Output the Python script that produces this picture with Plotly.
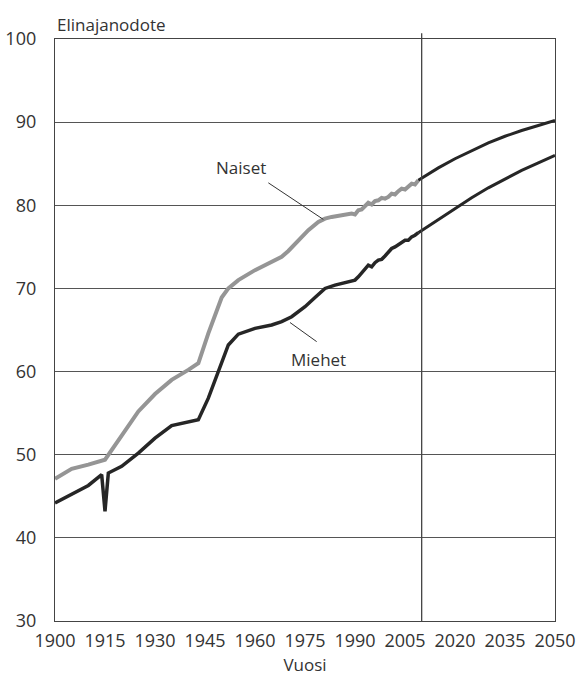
import plotly.graph_objects as go

# --- Data -------------------------------------------------------------
years_naiset = [1900, 1905, 1910, 1915, 1920, 1925, 1930, 1935, 1940, 1943,
                1946, 1950, 1952, 1955, 1960, 1965, 1968, 1970, 1973, 1976,
                1979, 1981, 1983, 1985, 1987, 1989, 1990, 1991, 1992, 1993,
                1994, 1995, 1996, 1997, 1998, 1999, 2000, 2001, 2002, 2003,
                2004, 2005, 2006, 2007, 2008, 2009]
naiset = [47.1, 48.3, 48.8, 49.4, 52.3, 55.2, 57.3, 59.0, 60.2, 61.0,
          64.6, 68.9, 70.0, 71.0, 72.2, 73.2, 73.8, 74.5, 75.8, 77.0,
          78.0, 78.4, 78.6, 78.7, 78.8, 79.0, 78.9, 79.4, 79.5, 79.9,
          80.3, 80.1, 80.5, 80.6, 80.9, 80.8, 81.0, 81.4, 81.3, 81.7,
          82.0, 81.9, 82.3, 82.6, 82.5, 83.0]

years_miehet = [1900, 1905, 1910, 1914, 1915, 1916, 1920, 1925, 1930, 1935,
                1940, 1943, 1946, 1950, 1952, 1955, 1960, 1965, 1968, 1971,
                1975, 1978, 1981, 1984, 1987, 1989, 1990, 1991, 1992, 1993,
                1994, 1995, 1996, 1997, 1998, 1999, 2000, 2001, 2002, 2003,
                2004, 2005, 2006, 2007, 2008, 2009]
miehet = [44.2, 45.2, 46.3, 47.6, 43.2, 47.8, 48.6, 50.2, 52.0, 53.5,
          54.0, 54.2, 56.8, 61.0, 63.2, 64.5, 65.2, 65.6, 66.0, 66.6,
          67.8, 68.9, 70.0, 70.4, 70.7, 71.0, 71.0, 71.4, 71.9, 72.4,
          72.8, 72.6, 73.1, 73.4, 73.5, 73.9, 74.3, 74.8, 75.0, 75.3,
          75.5, 75.8, 75.8, 76.2, 76.4, 76.7]

years_ennuste = [2009, 2015, 2020, 2025, 2030, 2035, 2040, 2045, 2050]
naiset_ennuste = [83.0, 84.5, 85.6, 86.6, 87.5, 88.3, 89.0, 89.6, 90.2]
miehet_ennuste = [76.7, 78.3, 79.6, 80.9, 82.1, 83.2, 84.2, 85.1, 86.0]

x_ticks = [1900, 1915, 1930, 1945, 1960, 1975, 1990, 2005, 2020, 2035, 2050]
y_ticks = [30, 40, 50, 60, 70, 80, 90, 100]
ennuste_alku = 2010

# label positions (data coords) and leader lines
naiset_label = (1955.8, 84.5)
naiset_leader = (1964.0, 82.7, 1980.5, 78.3)
miehet_label = (1978.9, 61.4)
miehet_leader = (1970.5, 65.9, 1978.5, 63.6)

GRAY = "#959595"
BLACK = "#262626"
TXT = "#333333"
FONT = "Open Sans"

fig = go.Figure()
fig.add_trace(go.Scatter(x=years_naiset, y=naiset, mode="lines",
                         line=dict(color=GRAY, width=4), name="Naiset"))
fig.add_trace(go.Scatter(x=years_miehet, y=miehet, mode="lines",
                         line=dict(color=BLACK, width=3.5), name="Miehet"))
fig.add_trace(go.Scatter(x=years_ennuste, y=naiset_ennuste, mode="lines",
                         line=dict(color=BLACK, width=3), name="Naiset ennuste"))
fig.add_trace(go.Scatter(x=years_ennuste, y=miehet_ennuste, mode="lines",
                         line=dict(color=BLACK, width=3), name="Miehet ennuste"))

fig.add_shape(type="line", xref="x", yref="paper", x0=ennuste_alku, x1=ennuste_alku,
              y0=0, y1=1.01, line=dict(color="#444", width=1.3))
fig.add_shape(type="line", xref="x", yref="y", x0=naiset_leader[0], y0=naiset_leader[1],
              x1=naiset_leader[2], y1=naiset_leader[3], line=dict(color="#333", width=1))
fig.add_shape(type="line", xref="x", yref="y", x0=miehet_leader[0], y0=miehet_leader[1],
              x1=miehet_leader[2], y1=miehet_leader[3], line=dict(color="#333", width=1))

fig.add_annotation(x=naiset_label[0], y=naiset_label[1], text="Naiset", showarrow=False,
                   font=dict(family=FONT, size=17, color=TXT))
fig.add_annotation(x=miehet_label[0], y=miehet_label[1], text="Miehet", showarrow=False,
                   font=dict(family=FONT, size=17, color=TXT))
fig.add_annotation(xref="paper", yref="paper", x=0, y=1.0, xanchor="left", yanchor="bottom",
                   yshift=1, text="Elinajanodote", showarrow=False,
                   font=dict(family=FONT, size=17, color=TXT))

fig.update_layout(
    width=579, height=676,
    margin=dict(l=55, r=24, t=39, b=55),
    plot_bgcolor="white", paper_bgcolor="white",
    showlegend=False,
    font=dict(family=FONT, size=18, color=TXT),
)
fig.update_xaxes(range=[1900, 2050], tickvals=x_ticks, showgrid=False, zeroline=False,
                 showline=True, mirror=True, linecolor="#444", linewidth=1.3,
                 ticks="", ticklabelstandoff=3, automargin=False,
                 title=dict(text="Vuosi", font=dict(family=FONT, size=17, color=TXT), standoff=12),
                 tickfont=dict(family=FONT, size=18, color=TXT))
fig.update_yaxes(range=[30, 100], tickvals=y_ticks, showgrid=True, gridcolor="#555",
                 gridwidth=1, zeroline=False, showline=True, mirror=True,
                 linecolor="#444", linewidth=1.3, ticks="", ticklabelstandoff=14,
                 automargin=False,
                 tickfont=dict(family=FONT, size=18, color=TXT))

fig.write_html("out.html", config={"displayModeBar": False},
               post_script="document.body.style.margin='0';")
